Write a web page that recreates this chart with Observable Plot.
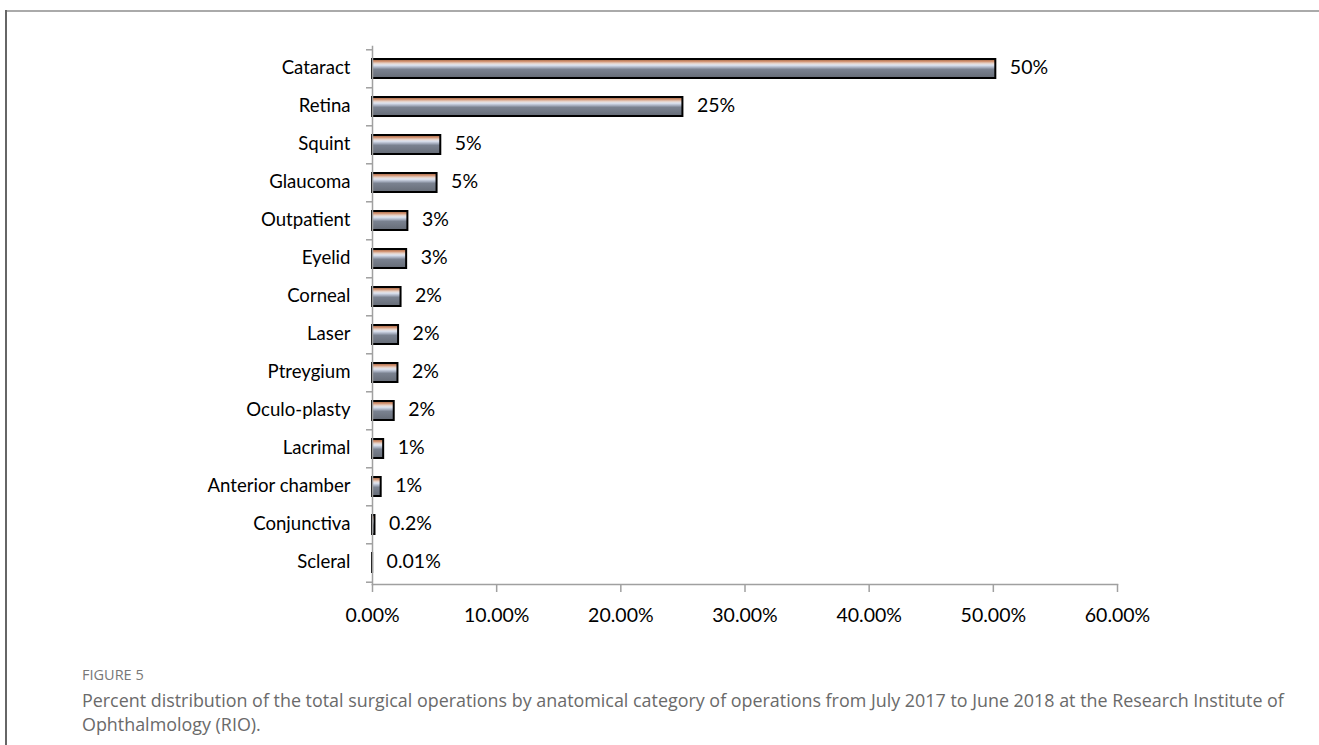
<!DOCTYPE html>
<html>
<head>
<meta charset="utf-8">
<script src="https://cdn.jsdelivr.net/npm/d3@7"></script>
<script src="https://cdn.jsdelivr.net/npm/@observablehq/plot@0.6"></script>
<style>
  html, body { margin: 0; padding: 0; background: #fff; }
  body { width: 1319px; height: 745px; position: relative; overflow: hidden; font-family: Lato, "Open Sans", sans-serif; }
  #frameTop { position: absolute; left: 6px; top: 10px; width: 1313px; height: 2px; background: #aaaaaa; }
  #frameLeft { position: absolute; left: 5px; top: 10px; width: 2px; height: 735px; background: #666666; }
  #chart { position: absolute; left: 0; top: 0; }
  #fig { position: absolute; left: 82px; top: 665px; font-family: "Open Sans", sans-serif; font-size: 14.5px; color: #777; }
  #cap { position: absolute; left: 82px; top: 688px; font-family: "Open Sans", sans-serif; font-size: 17.9px; line-height: 24px; color: #6a6a6a; white-space: nowrap; font-weight: 400; }
</style>
</head>
<body>
<div id="frameTop"></div>
<div id="frameLeft"></div>
<div id="chart"></div>
<div id="fig">FIGURE 5</div>
<div id="cap">Percent distribution of the total surgical operations by anatomical category of operations from July 2017 to June 2018 at the Research Institute of<br>Ophthalmology (RIO).</div>
<script>
const categories = ["Cataract","Retina","Squint","Glaucoma","Outpatient","Eyelid","Corneal","Laser","Ptreygium","Oculo-plasty","Lacrimal","Anterior chamber","Conjunctiva","Scleral"];
const values = [50.2, 25.0, 5.5, 5.2, 2.85, 2.75, 2.3, 2.1, 2.05, 1.75, 0.9, 0.7, 0.2, 0.01];
const valueLabels = ["50%","25%","5%","5%","3%","3%","2%","2%","2%","2%","1%","1%","0.2%","0.01%"];
const xTicks = [0, 10, 20, 30, 40, 50, 60];

const data = categories.map((c, i) => ({cat: c, value: values[i], label: valueLabels[i]}));

const W = 1319, H = 640;
const mTop = 46, mBottom = H - 584, mLeft = 372, mRight = W - 1117;
const step = (H - mTop - mBottom) / categories.length;

const plot = Plot.plot({
  width: W,
  height: H,
  marginTop: mTop,
  marginBottom: mBottom,
  marginLeft: mLeft,
  marginRight: mRight,
  style: {fontFamily: "Lato, 'Open Sans', sans-serif", fontSize: "19px", color: "#000", background: "transparent"},
  x: {domain: [0, 60]},
  y: {domain: categories, paddingInner: 0.5, paddingOuter: 0.25},
  marks: [
    Plot.barX(data, {x: "value", y: "cat", fill: "url(#barGrad)", stroke: "#000", strokeWidth: 2}),
    Plot.text(data, {x: "value", y: "cat", text: "label", textAnchor: "start", dx: 14, dy: -1, fontSize: 19.5, fill: "#000"}),
    Plot.frame({anchor: "left", stroke: "#a0a0a0", strokeWidth: 1.5}),
    Plot.frame({anchor: "bottom", stroke: "#a0a0a0", strokeWidth: 1.5}),
    Plot.axisY({tickSize: 0, tickPadding: 22, label: null, fontSize: 18.6, dy: -1}),
    Plot.axisY({tickSize: 6, tickFormat: null, label: null, dy: -step / 2, stroke: "#a0a0a0", strokeWidth: 1.5}),
    Plot.axisY({ticks: [categories[categories.length - 1]], tickSize: 6, tickFormat: null, label: null, dy: step / 2, stroke: "#a0a0a0", strokeWidth: 1.5}),
    Plot.axisX({ticks: xTicks, tickSize: 8, tickPadding: 16, tickFormat: d => d.toFixed(2) + "%", label: null, stroke: "#a0a0a0", strokeWidth: 1.5, fontSize: 19.5})
  ]
});

const svgNS = "http://www.w3.org/2000/svg";
const defs = document.createElementNS(svgNS, "defs");
defs.innerHTML = `
<linearGradient id="barGrad" x1="0" y1="0" x2="0" y2="1">
  <stop offset="0" stop-color="#9a6040"/>
  <stop offset="0.12" stop-color="#cf8e6c"/>
  <stop offset="0.22" stop-color="#e6cfc3"/>
  <stop offset="0.32" stop-color="#dfe6f2"/>
  <stop offset="0.44" stop-color="#a9b1c2"/>
  <stop offset="0.54" stop-color="#7a8290"/>
  <stop offset="1" stop-color="#656b76"/>
</linearGradient>`;
plot.insertBefore(defs, plot.firstChild);
document.getElementById("chart").appendChild(plot);
</script>
</body>
</html>
